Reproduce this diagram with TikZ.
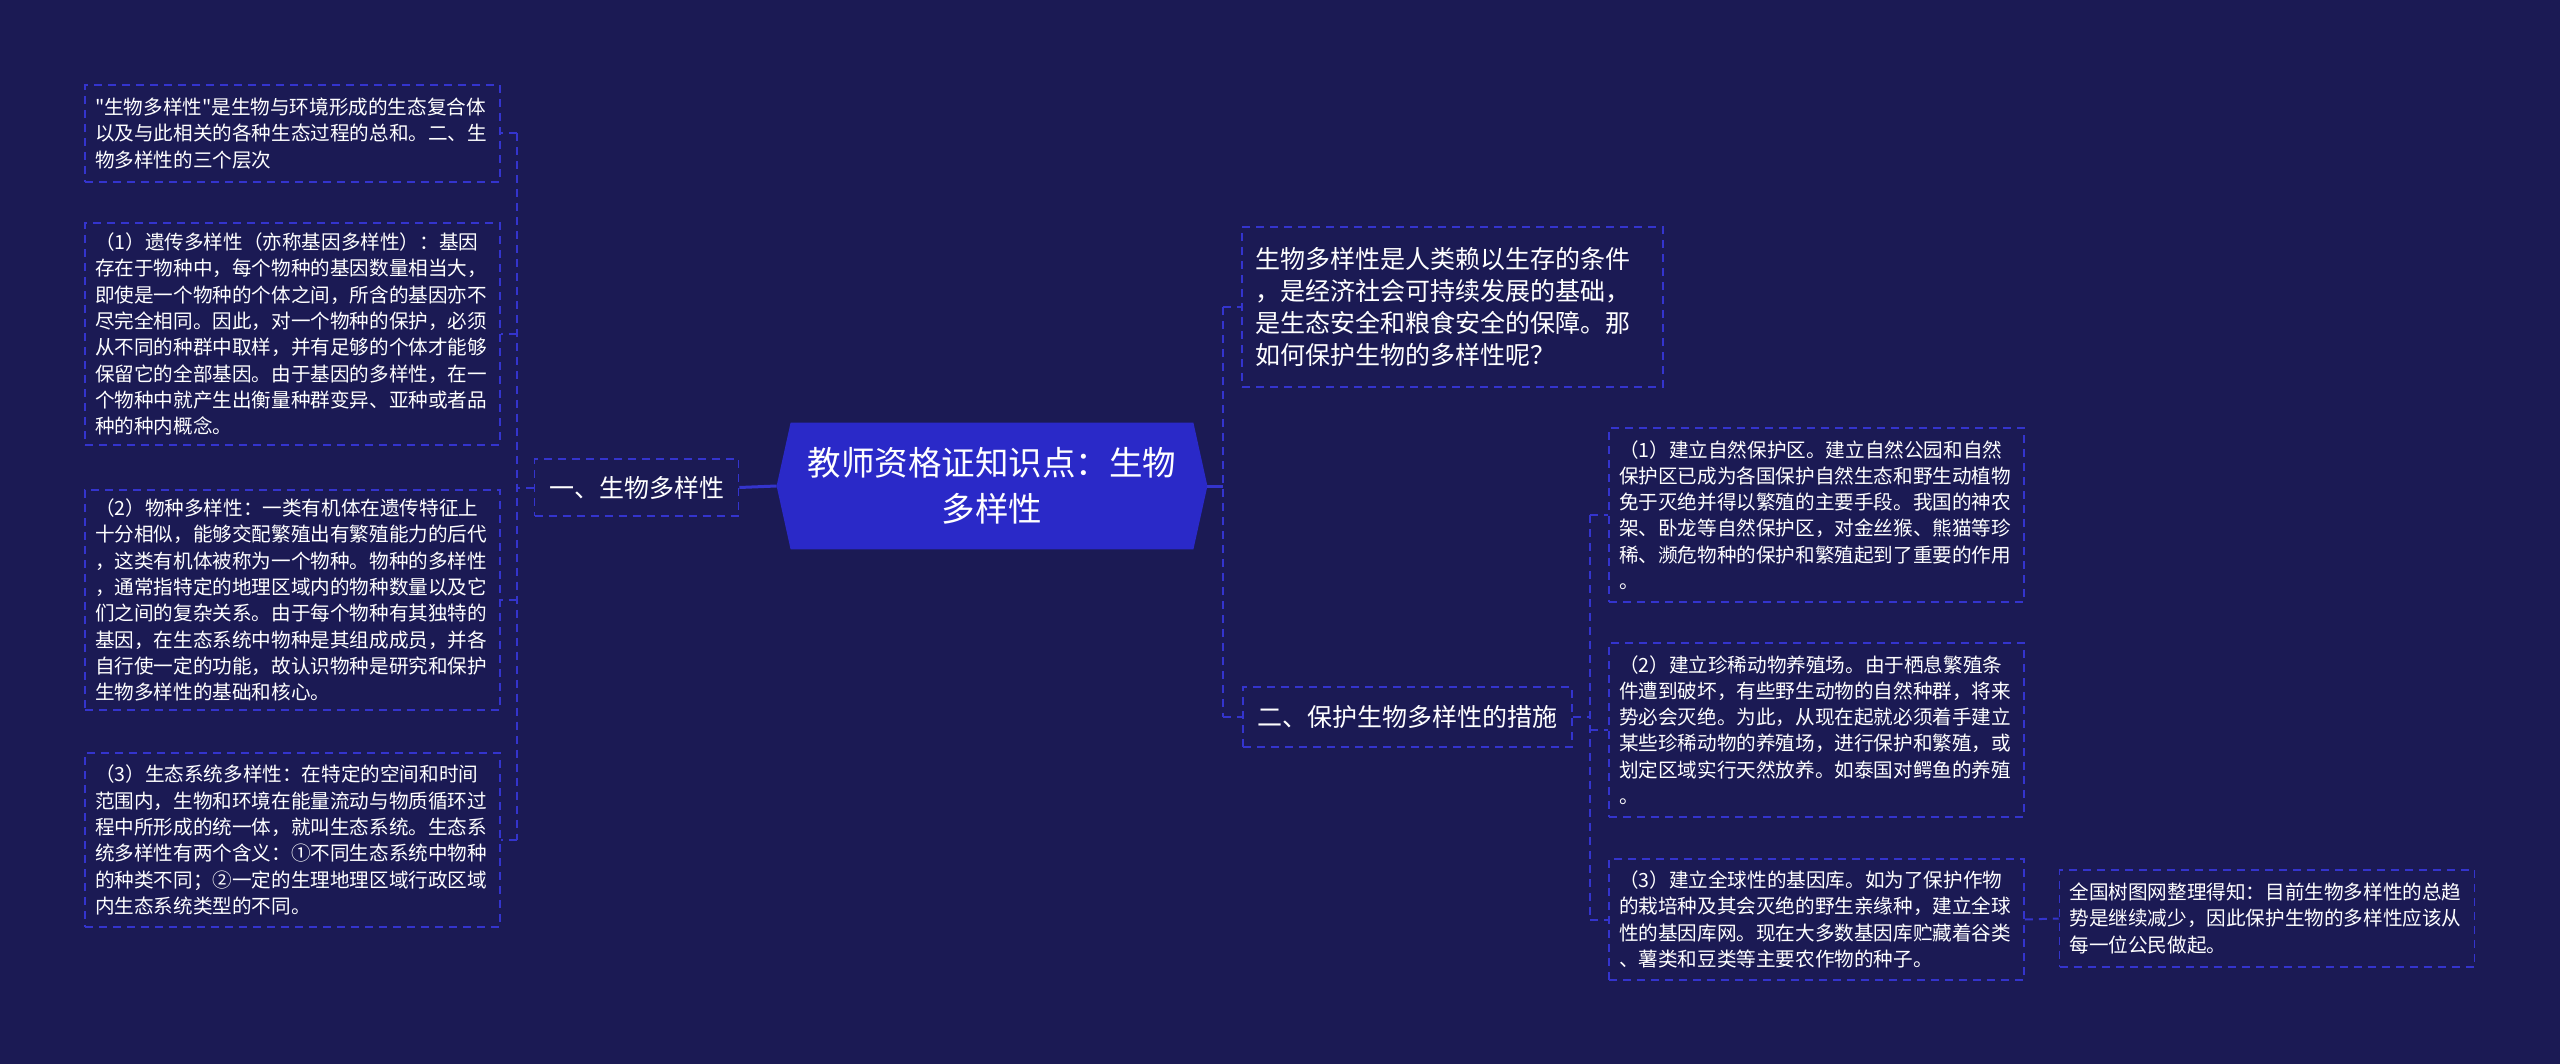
\documentclass[tikz,border=0pt]{standalone}
\usepackage{fontspec}
\setmainfont{Noto Sans CJK SC}[Ligatures=TeXOff]
\usetikzlibrary{backgrounds}
\definecolor{bgc}{RGB}{27,26,84}
\definecolor{linec}{RGB}{52,52,205}
\definecolor{cfill}{RGB}{42,41,200}
\begin{document}
\begin{tikzpicture}[x=0.5pt,y=-0.5pt,
  conn/.style={draw=linec, line width=1pt, dash pattern=on 4pt off 3pt},
  solidc/.style={draw=linec, line width=1.5pt},
  leafbox/.style={draw=linec, line width=0.8pt, dash pattern=on 4pt off 3pt, text=white,
    font=\fontsize{9.8pt}{13.15pt}\selectfont, align=left, text width=197.5pt,
    inner xsep=5pt, inner ysep=0pt},
  bigleaf/.style={leafbox, font=\fontsize{12.5pt}{16pt}\selectfont, inner xsep=6.5pt},
  midbox/.style={draw=linec, line width=0.8pt, dash pattern=on 4pt off 3pt, text=white,
    font=\fontsize{12.5pt}{16pt}\selectfont, inner xsep=7.25pt, inner ysep=0pt},
  cen/.style={text=white, font=\fontsize{16.75pt}{23pt}\selectfont, align=center,
    minimum width=201pt, minimum height=63pt, inner sep=0pt}]
\useasboundingbox (0,0) rectangle (2560,1064);

% central node
\node[cen] (c) at (992,486) {教师资格证知识点：生物\\多样性};
\begin{scope}[on background layer]
\fill[bgc] (0,0) rectangle (2560,1064);
\fill[cfill] (c.north west) -- (c.north east) -- ([xshift=7pt]c.east) -- (c.south east)
  -- (c.south west) -- ([xshift=-7pt]c.west) -- cycle;
\end{scope}
\coordinate (cl) at ([xshift=-7pt]c.west);
\coordinate (cr) at ([xshift=7pt]c.east);

% left branch
\node[midbox, minimum height=28.5pt] (one) at (636.5,487.5) {一、生物多样性};

\node[leafbox, minimum height=48.5pt] (A) at (292.5,133.5) {"生物多样性"是生物与环境形成的生态复合体\\以及与此相关的各种生态过程的总和。二、生\\物多样性的三个层次};
\node[leafbox, minimum height=111pt] (B) at (292.5,334) {（1）遗传多样性（亦称基因多样性）：基因\\存在于物种中，每个物种的基因数量相当大，\\即使是一个物种的个体之间，所含的基因亦不\\尽完全相同。因此，对一个物种的保护，必须\\从不同的种群中取样，并有足够的个体才能够\\保留它的全部基因。由于基因的多样性，在一\\个物种中就产生出衡量种群变异、亚种或者品\\种的种内概念。};
\node[leafbox, minimum height=110pt] (C) at (292.5,600) {（2）物种多样性：一类有机体在遗传特征上\\十分相似，能够交配繁殖出有繁殖能力的后代\\，这类有机体被称为一个物种。物种的多样性\\，通常指特定的地理区域内的物种数量以及它\\们之间的复杂关系。由于每个物种有其独特的\\基因，在生态系统中物种是其组成成员，并各\\自行使一定的功能，故认识物种是研究和保护\\生物多样性的基础和核心。};
\node[leafbox, minimum height=87pt] (D) at (292.5,840) {（3）生态系统多样性：在特定的空间和时间\\范围内，生物和环境在能量流动与物质循环过\\程中所形成的统一体，就叫生态系统。生态系\\统多样性有两个含义：①不同生态系统中物种\\的种类不同；②一定的生理地理区域行政区域\\内生态系统类型的不同。};

\draw[solidc] (cl) -- (one.east);
\coordinate (lvj) at (517,487.5);
\draw[conn] (one.west) -- (lvj);
\draw[conn] (lvj |- A.east) -- (lvj |- D.east);
\foreach \n in {A,B,C,D} {\draw[conn] (lvj |- \n.east) -- (\n.east);}

% right branch
\node[bigleaf, minimum height=80pt] (E) at (1452.5,307) {生物多样性是人类赖以生存的条件\\，是经济社会可持续发展的基础，\\是生态安全和粮食安全的保障。那\\如何保护生物的多样性呢？};
\node[midbox, minimum height=30pt] (two) at (1407.5,717) {二、保护生物多样性的措施};

\node[leafbox, minimum height=87pt] (F) at (1816.5,515) {（1）建立自然保护区。建立自然公园和自然\\保护区已成为各国保护自然生态和野生动植物\\免于灭绝并得以繁殖的主要手段。我国的神农\\架、卧龙等自然保护区，对金丝猴、熊猫等珍\\稀、濒危物种的保护和繁殖起到了重要的作用\\。};
\node[leafbox, minimum height=87pt] (G) at (1816.5,730) {（2）建立珍稀动物养殖场。由于栖息繁殖条\\件遭到破坏，有些野生动物的自然种群，将来\\势必会灭绝。为此，从现在起就必须着手建立\\某些珍稀动物的养殖场，进行保护和繁殖，或\\划定区域实行天然放养。如泰国对鳄鱼的养殖\\。};
\node[leafbox, minimum height=60.5pt] (H) at (1816.5,919.5) {（3）建立全球性的基因库。如为了保护作物\\的栽培种及其会灭绝的野生亲缘种，建立全球\\性的基因库网。现在大多数基因库贮藏着谷类\\、薯类和豆类等主要农作物的种子。};
\node[leafbox, minimum height=48.5pt] (I) at (2267,918.5) {全国树图网整理得知：目前生物多样性的总趋\\势是继续减少，因此保护生物的多样性应该从\\每一位公民做起。};

\coordinate (rvj) at (1223,486);
\draw[solidc] (cr) -- (rvj);
\draw[conn] (rvj |- E.west) -- (rvj |- two.west);
\draw[conn] (rvj |- E.west) -- (E.west);
\draw[conn] (rvj |- two.west) -- (two.west);

\coordinate (rv2) at (1590,717);
\draw[conn] (two.east) -- (rv2);
\draw[conn] (rv2 |- F.west) -- (rv2 |- H.west);
\foreach \n in {F,G,H} {\draw[conn] (rv2 |- \n.west) -- (\n.west);}
\draw[conn] (H.east) -- (I.west);
\end{tikzpicture}
\end{document}
